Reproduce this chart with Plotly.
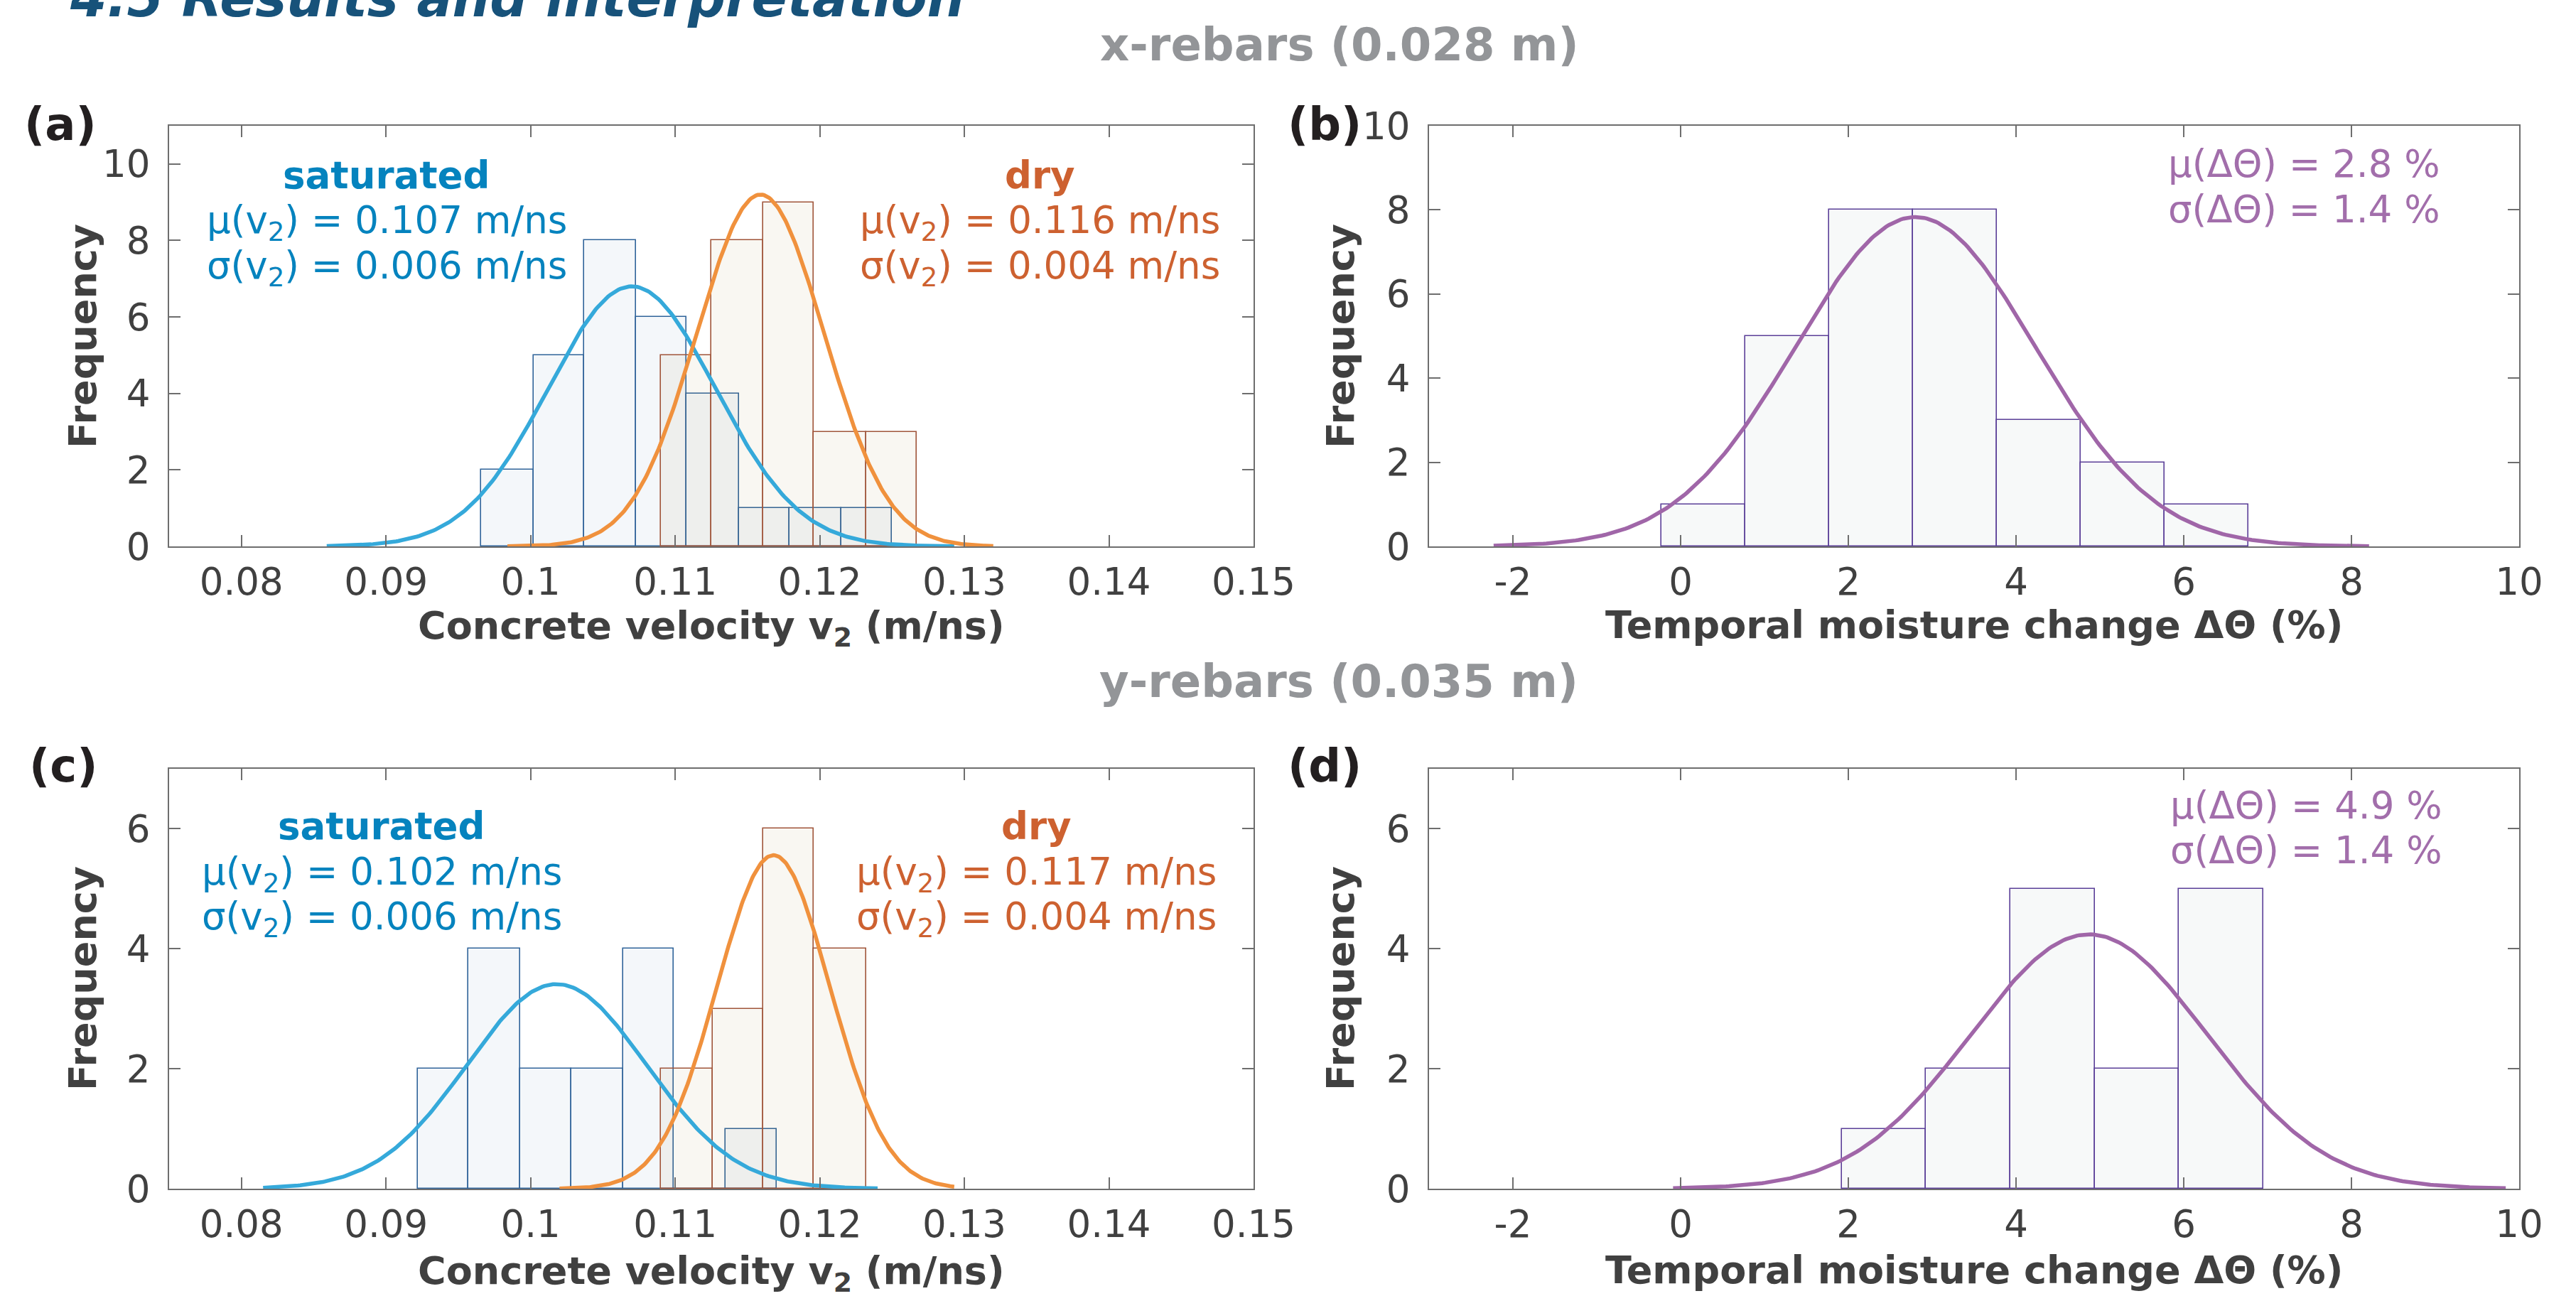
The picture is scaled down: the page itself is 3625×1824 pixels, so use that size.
import numpy as np
import plotly.graph_objects as go

# ---------------- data ----------------
# (a) x-rebars, concrete velocity histograms
a_sat_edges = [0.0966, 0.1002, 0.1037, 0.1073, 0.1108, 0.1144, 0.1179, 0.1215, 0.1250]
a_sat_counts = [2, 5, 8, 6, 4, 1, 1, 1]
a_dry_edges = [0.1090, 0.1125, 0.1161, 0.1196, 0.1232, 0.1267]
a_dry_counts = [5, 8, 9, 3, 3]
# fitted normal curves: mean, sigma, peak height, x-extent
a_sat_fit = dict(mu=0.107, sigma=0.0058, peak=6.8, lo=0.0859, hi=0.1293)
a_dry_fit = dict(mu=0.1159, sigma=0.0044, peak=9.2, lo=0.0984, hi=0.1320)

# (b) x-rebars, temporal moisture change
b_edges = [-0.23, 0.77, 1.77, 2.77, 3.77, 4.77, 5.77, 6.77]
b_counts = [1, 5, 8, 8, 3, 2, 1]
b_fit = dict(mu=2.8, sigma=1.43, peak=7.83, lo=-2.23, hi=8.21)

# (c) y-rebars, concrete velocity histograms
c_sat_edges = [0.0922, 0.0957, 0.0993, 0.1028, 0.1064, 0.1099, 0.1135, 0.1170]
c_sat_counts = [2, 4, 2, 2, 4, 0, 1]
c_dry_edges = [0.1090, 0.1126, 0.1161, 0.1196, 0.1232]
c_dry_counts = [2, 3, 6, 4]
c_sat_fit = dict(mu=0.1018, sigma=0.0062, peak=3.41, lo=0.0815, hi=0.1240)
c_dry_fit = dict(mu=0.1168, sigma=0.0039, peak=5.56, lo=0.1020, hi=0.1293)

# (d) y-rebars, temporal moisture change
d_edges = [1.92, 2.92, 3.93, 4.94, 5.94, 6.95]
d_counts = [1, 2, 5, 2, 5]
d_fit = dict(mu=4.87, sigma=1.41, peak=4.24, lo=-0.09, hi=9.84)

# tick labels
v_ticks = [0.08, 0.09, 0.10, 0.11, 0.12, 0.13, 0.14, 0.15]
v_ticklabels = ["0.08", "0.09", "0.1", "0.11", "0.12", "0.13", "0.14", "0.15"]
m_ticks = [-2, 0, 2, 4, 6, 8, 10]
m_ticklabels = ["-2", "0", "2", "4", "6", "8", "10"]
freq_ticks_top = [0, 2, 4, 6, 8, 10]
freq_ticks_bottom = [0, 2, 4, 6]

# texts
title_text = "4.5 Results and interpretation"
head_top = "x-rebars (0.028 m)"
head_bottom = "y-rebars (0.035 m)"
stats_a_sat = ["<b>saturated</b>", "μ(v<sub>2</sub>) = 0.107 m/ns", "σ(v<sub>2</sub>) = 0.006 m/ns"]
stats_a_dry = ["<b>dry</b>", "μ(v<sub>2</sub>) = 0.116 m/ns", "σ(v<sub>2</sub>) = 0.004 m/ns"]
stats_b = ["μ(ΔΘ) = 2.8 %", "σ(ΔΘ) = 1.4 %"]
stats_c_sat = ["<b>saturated</b>", "μ(v<sub>2</sub>) = 0.102 m/ns", "σ(v<sub>2</sub>) = 0.006 m/ns"]
stats_c_dry = ["<b>dry</b>", "μ(v<sub>2</sub>) = 0.117 m/ns", "σ(v<sub>2</sub>) = 0.004 m/ns"]
stats_d = ["μ(ΔΘ) = 4.9 %", "σ(ΔΘ) = 1.4 %"]
xtitle_v = "Concrete velocity v<sub>2</sub> (m/ns)"
xtitle_m = "Temporal moisture change ΔΘ (%)"
ytitle = "Frequency"

# ---------------- styling ----------------
W, H = 3625, 1824
FONT = "DejaVu Sans"
SAT_TXT, SAT_CURVE, SAT_LINE, SAT_FILL = "#0583BE", "#35A9DA", "#30649A", "rgba(0,60,140,0.045)"
DRY_TXT, DRY_CURVE, DRY_LINE, DRY_FILL = "#CD6130", "#F0913D", "#A0553A", "rgba(160,120,40,0.06)"
PUR_TXT, PUR_CURVE, PUR_LINE, PUR_FILL = "#A26EAB", "#A066A8", "#5B3F98", "rgba(90,140,140,0.05)"
AX_COL = "#6E6E6E"
TICK_TXT = "#404040"


def px_x(p):
    return p / W


def px_y(p):
    return 1 - p / H


fig = go.Figure()


def add_hist(edges, counts, fill, line, xa, ya):
    centers = [(edges[i] + edges[i + 1]) / 2 for i in range(len(counts))]
    widths = [edges[i + 1] - edges[i] for i in range(len(counts))]
    fig.add_trace(go.Bar(x=centers, y=counts, width=widths,
                         marker=dict(color=fill, line=dict(color=line, width=1.6)),
                         xaxis=xa, yaxis=ya, showlegend=False, hoverinfo="skip"))


def add_fit(fit, color, xa, ya):
    xs = np.linspace(fit["lo"], fit["hi"], 300)
    ys = fit["peak"] * np.exp(-0.5 * ((xs - fit["mu"]) / fit["sigma"]) ** 2)
    fig.add_trace(go.Scatter(x=xs, y=ys, mode="lines", line=dict(color=color, width=5.5),
                             xaxis=xa, yaxis=ya, showlegend=False, hoverinfo="skip"))


# panel a
add_hist(a_sat_edges, a_sat_counts, SAT_FILL, SAT_LINE, "x", "y")
add_hist(a_dry_edges, a_dry_counts, DRY_FILL, DRY_LINE, "x", "y")
add_fit(a_sat_fit, SAT_CURVE, "x", "y")
add_fit(a_dry_fit, DRY_CURVE, "x", "y")
# panel b
add_hist(b_edges, b_counts, PUR_FILL, PUR_LINE, "x2", "y2")
add_fit(b_fit, PUR_CURVE, "x2", "y2")
# panel c
add_hist(c_sat_edges, c_sat_counts, SAT_FILL, SAT_LINE, "x3", "y3")
add_hist(c_dry_edges, c_dry_counts, DRY_FILL, DRY_LINE, "x3", "y3")
add_fit(c_sat_fit, SAT_CURVE, "x3", "y3")
add_fit(c_dry_fit, DRY_CURVE, "x3", "y3")
# panel d
add_hist(d_edges, d_counts, PUR_FILL, PUR_LINE, "x4", "y4")
add_fit(d_fit, PUR_CURVE, "x4", "y4")

left_dom = [px_x(238), px_x(1764)]
right_dom = [px_x(2011), px_x(3545)]
top_dom = [px_y(769), px_y(177)]
bot_dom = [px_y(1673), px_y(1082)]

common = dict(showline=True, linecolor=AX_COL, linewidth=2, mirror="ticks",
              ticks="inside", ticklen=16, tickwidth=2, tickcolor=AX_COL,
              showgrid=False, zeroline=False, automargin=False,
              tickfont=dict(family=FONT, size=53, color=TICK_TXT))

xcommon = dict(common, ticklabelstandoff=2)
ycommon = dict(common, ticklabelstandoff=14)

fig.update_layout(
    width=W, height=H, autosize=False,
    margin=dict(l=0, r=0, t=0, b=0, pad=0, autoexpand=False),
    paper_bgcolor="white", plot_bgcolor="white", barmode="overlay", bargap=0,
    xaxis=dict(xcommon, domain=left_dom, range=[0.075, 0.15], tickvals=v_ticks, ticktext=v_ticklabels, anchor="y"),
    yaxis=dict(ycommon, domain=top_dom, range=[0, 11], tickvals=freq_ticks_top, anchor="x"),
    xaxis2=dict(xcommon, domain=right_dom, range=[-3, 10], tickvals=m_ticks, ticktext=m_ticklabels, anchor="y2"),
    yaxis2=dict(ycommon, domain=top_dom, range=[0, 10], tickvals=freq_ticks_top, anchor="x2"),
    xaxis3=dict(xcommon, domain=left_dom, range=[0.075, 0.15], tickvals=v_ticks, ticktext=v_ticklabels, anchor="y3"),
    yaxis3=dict(ycommon, domain=bot_dom, range=[0, 7], tickvals=freq_ticks_bottom, anchor="x3"),
    xaxis4=dict(xcommon, domain=right_dom, range=[-3, 10], tickvals=m_ticks, ticktext=m_ticklabels, anchor="y4"),
    yaxis4=dict(ycommon, domain=bot_dom, range=[0, 7], tickvals=freq_ticks_bottom, anchor="x4"),
)

ann = []


def text_line(txt, cx, baseline, size, color, bold=False, italic=False, xanchor="center", sub=False):
    # position a single text line by its baseline (pixels)
    shift = 0.346 * size - (0.08 * size if sub else 0)
    f = dict(family=FONT, size=size, color=color)
    if bold:
        f["weight"] = "bold"
    if italic:
        f["style"] = "italic"
    ann.append(dict(text=txt, x=px_x(cx), y=px_y(baseline - shift), xref="paper", yref="paper",
                    xanchor=xanchor, yanchor="middle", showarrow=False, font=f))


# main title (cut at top edge) and section headings
text_line(title_text, 96, 23, 74, "#17527A", bold=True, italic=True, xanchor="left")
text_line(head_top, 1885, 85, 64, "#939598", bold=True)
text_line(head_bottom, 1884, 981, 64, "#939598", bold=True)

# panel labels
for lab, cx, bl in [("(a)", 85, 197), ("(b)", 1864, 197), ("(c)", 89, 1100), ("(d)", 1864, 1100)]:
    text_line(lab, cx, bl, 64, "#231F20", bold=True)

# statistic blocks
for lines, cx, bls, col in [
    (stats_a_sat, 544, [265, 328, 392], SAT_TXT),
    (stats_a_dry, 1463, [265, 328, 392], DRY_TXT),
    (stats_c_sat, 537, [1181, 1245, 1308], SAT_TXT),
    (stats_c_dry, 1458, [1181, 1245, 1308], DRY_TXT),
    (stats_b, 3242, [249, 313], PUR_TXT),
    (stats_d, 3245, [1152, 1215], PUR_TXT),
]:
    for t, bl in zip(lines, bls):
        text_line(t, cx, bl, 53, col, sub=("<sub>" in t))

# axis titles
for t, cx, bl in [(xtitle_v, 1001, 898), (xtitle_m, 2778, 898), (xtitle_v, 1001, 1806), (xtitle_m, 2778, 1806)]:
    text_line(t, cx, bl, 54, TICK_TXT, bold=True, sub=("<sub>" in t))

for cx, cy in [(116, 473), (1886, 473), (116, 1377), (1886, 1377)]:
    ann.append(dict(text=ytitle, x=px_x(cx), y=px_y(cy), xref="paper", yref="paper",
                    xanchor="center", yanchor="middle", textangle=-90, showarrow=False,
                    font=dict(family=FONT, size=54, color=TICK_TXT, weight="bold")))

fig.update_layout(annotations=ann)
fig.write_html("out.html")
